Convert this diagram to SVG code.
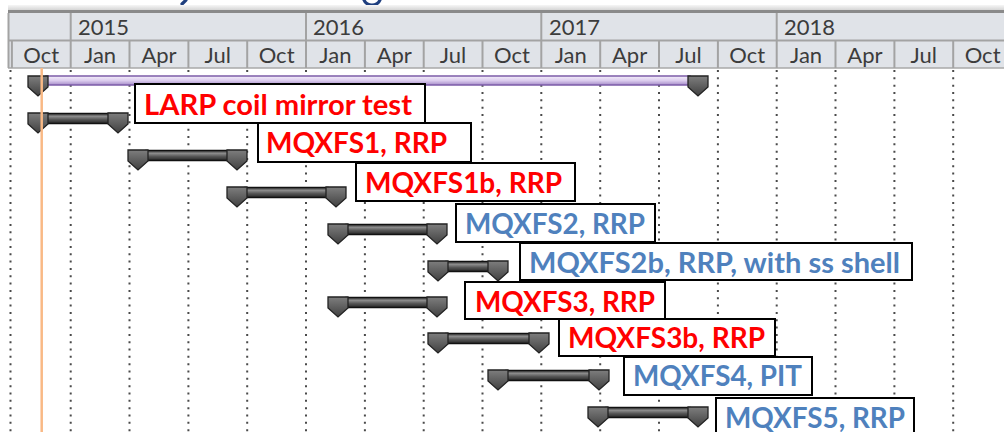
<svg xmlns="http://www.w3.org/2000/svg" xmlns:xlink="http://www.w3.org/1999/xlink" width="1004" height="432" viewBox="0 0 1004 432">
  <style>
    .hdr { font-family: Lato, "Liberation Sans", sans-serif; font-size: 22px; fill: #3c3c3c; }
    .mon { text-anchor: middle; }
    .hline { stroke: #a3a3a3; stroke-width: 2; }
    .grid { stroke: #4a4a4a; stroke-width: 2; stroke-dasharray: 2 5.33; }
    .box { fill: #ffffff; stroke: #000000; stroke-width: 2; }
    .lbl { font-family: Lato, "Liberation Sans", sans-serif; font-weight: 700; font-size: 29px; }
    .red { fill: #ff0000; }
    .blue { fill: #4f81bd; }
    .bar { fill: url(#barFill); stroke: #111111; stroke-width: 1.5; }
    .mk { fill: url(#mkFill); stroke: #222222; stroke-width: 1.3; }
  </style>
  <defs>
    <linearGradient id="barFill" x1="0" y1="0" x2="0" y2="1">
      <stop offset="0" stop-color="#3e3e3e"/>
      <stop offset="0.3" stop-color="#8a8a8a"/>
      <stop offset="0.6" stop-color="#565656"/>
      <stop offset="1" stop-color="#262626"/>
    </linearGradient>
    <linearGradient id="mkFill" x1="0" y1="0" x2="0" y2="1">
      <stop offset="0" stop-color="#7e7e7e"/>
      <stop offset="1" stop-color="#404040"/>
    </linearGradient>
    <linearGradient id="sumFill" x1="0" y1="0" x2="0" y2="1">
      <stop offset="0" stop-color="#f3eef9"/>
      <stop offset="0.5" stop-color="#dccdee"/>
      <stop offset="1" stop-color="#a68dc9"/>
    </linearGradient>
    <linearGradient id="topBand" x1="0" y1="0" x2="0" y2="1">
      <stop offset="0" stop-color="#f6f6f6"/>
      <stop offset="1" stop-color="#cfcfcf"/>
    </linearGradient>
    <!-- milestone-style end cap of a task bar, origin at top centre -->
    <path id="cap" d="M-10,0 H10 V11 L0,20 L-10,11 Z"/>
  </defs>

  <rect width="1004" height="432" fill="#ffffff"/>

  <!-- title descenders along the top edge -->
  <g id="title" fill="none" stroke="#1f3f7f" stroke-width="3.2" stroke-linecap="round">
    <path d="M186,0 L182,4"/>
    <path d="M364,0 Q366,5 372,5 Q378,5 380,0"/>
  </g>

  <!-- timescale header -->
  <g id="timescale">
    <rect x="8" y="5" width="996" height="6" fill="url(#topBand)"/>
    <rect x="8" y="10" width="996" height="3" fill="#8a8a8a"/>
    <rect x="8" y="13" width="996" height="55" fill="#e0e3e8"/>
    <line x1="8" y1="40.5" x2="1004" y2="40.5" class="hline"/>
    <line x1="8" y1="68" x2="1004" y2="68" stroke="#a8a8a8" stroke-width="1.5"/>
    <line x1="8.5" y1="13" x2="8.5" y2="68" class="hline"/>
    <!-- year dividers -->
    <g class="hline">
      <line x1="70.7" y1="13" x2="70.7" y2="40"/>
      <line x1="306" y1="13" x2="306" y2="40"/>
      <line x1="541.3" y1="13" x2="541.3" y2="40"/>
      <line x1="776.7" y1="13" x2="776.7" y2="40"/>
    </g>
    <!-- quarter dividers -->
    <g class="hline">
      <line x1="11.9" y1="40" x2="11.9" y2="68"/>
      <line x1="70.7" y1="40" x2="70.7" y2="68"/>
      <line x1="129.5" y1="40" x2="129.5" y2="68"/>
      <line x1="188.4" y1="40" x2="188.4" y2="68"/>
      <line x1="247.2" y1="40" x2="247.2" y2="68"/>
      <line x1="306" y1="40" x2="306" y2="68"/>
      <line x1="364.9" y1="40" x2="364.9" y2="68"/>
      <line x1="423.7" y1="40" x2="423.7" y2="68"/>
      <line x1="482.5" y1="40" x2="482.5" y2="68"/>
      <line x1="541.3" y1="40" x2="541.3" y2="68"/>
      <line x1="600.2" y1="40" x2="600.2" y2="68"/>
      <line x1="659" y1="40" x2="659" y2="68"/>
      <line x1="717.9" y1="40" x2="717.9" y2="68"/>
      <line x1="776.7" y1="40" x2="776.7" y2="68"/>
      <line x1="835.5" y1="40" x2="835.5" y2="68"/>
      <line x1="894.4" y1="40" x2="894.4" y2="68"/>
      <line x1="953.2" y1="40" x2="953.2" y2="68"/>
    </g>
    <g class="hdr">
      <text x="78" y="35">2015</text>
      <text x="313" y="35">2016</text>
      <text x="549" y="35">2017</text>
      <text x="784" y="35">2018</text>
    </g>
    <g class="hdr mon">
      <text x="41.3" y="63">Oct</text>
      <text x="100.1" y="63">Jan</text>
      <text x="159" y="63">Apr</text>
      <text x="217.8" y="63">Jul</text>
      <text x="276.6" y="63">Oct</text>
      <text x="335.4" y="63">Jan</text>
      <text x="394.3" y="63">Apr</text>
      <text x="453.1" y="63">Jul</text>
      <text x="511.9" y="63">Oct</text>
      <text x="570.8" y="63">Jan</text>
      <text x="629.6" y="63">Apr</text>
      <text x="688.4" y="63">Jul</text>
      <text x="747.2" y="63">Oct</text>
      <text x="806.1" y="63">Jan</text>
      <text x="864.9" y="63">Apr</text>
      <text x="923.7" y="63">Jul</text>
      <text x="982.6" y="63">Oct</text>
    </g>
  </g>

  <!-- dotted quarter gridlines -->
  <g id="gridlines" class="grid">
    <line x1="10.5" y1="70" x2="10.5" y2="432"/>
    <line x1="70.7" y1="70" x2="70.7" y2="432"/>
    <line x1="129.5" y1="70" x2="129.5" y2="432"/>
    <line x1="188.4" y1="70" x2="188.4" y2="432"/>
    <line x1="247.2" y1="70" x2="247.2" y2="432"/>
    <line x1="306" y1="70" x2="306" y2="432"/>
    <line x1="364.9" y1="70" x2="364.9" y2="432"/>
    <line x1="423.7" y1="70" x2="423.7" y2="432"/>
    <line x1="482.5" y1="70" x2="482.5" y2="432"/>
    <line x1="541.3" y1="70" x2="541.3" y2="432"/>
    <line x1="600.2" y1="70" x2="600.2" y2="432"/>
    <line x1="659" y1="70" x2="659" y2="432"/>
    <line x1="717.9" y1="70" x2="717.9" y2="432"/>
    <line x1="776.7" y1="70" x2="776.7" y2="432"/>
    <line x1="835.5" y1="70" x2="835.5" y2="432"/>
    <line x1="894.4" y1="70" x2="894.4" y2="432"/>
    <line x1="953.2" y1="70" x2="953.2" y2="432"/>
  </g>

  <!-- task bars -->
  <g id="connectors">
    <g id="summary">
      <rect x="46" y="76" width="644" height="9" fill="url(#sumFill)" stroke="#7c5ca8" stroke-width="1.5"/>
      <use href="#cap" x="38" y="76" class="mk"/>
      <use href="#cap" x="698" y="76" class="mk"/>
    </g>
    <g id="bar-larp">
      <rect x="46" y="113.5" width="64" height="10" class="bar"/>
      <use href="#cap" x="38" y="113" class="mk"/>
      <use href="#cap" x="118" y="113" class="mk"/>
    </g>
    <g id="bar-s1">
      <rect x="146" y="150.5" width="83" height="10" class="bar"/>
      <use href="#cap" x="138" y="150" class="mk"/>
      <use href="#cap" x="237" y="150" class="mk"/>
    </g>
    <g id="bar-s1b">
      <rect x="245" y="187.5" width="83" height="10" class="bar"/>
      <use href="#cap" x="237" y="187" class="mk"/>
      <use href="#cap" x="336" y="187" class="mk"/>
    </g>
    <g id="bar-s2">
      <rect x="346" y="224.5" width="83" height="10" class="bar"/>
      <use href="#cap" x="338" y="224" class="mk"/>
      <use href="#cap" x="437" y="224" class="mk"/>
    </g>
    <g id="bar-s2b">
      <rect x="446" y="261.5" width="44" height="10" class="bar"/>
      <use href="#cap" x="438" y="261" class="mk"/>
      <use href="#cap" x="498" y="261" class="mk"/>
    </g>
    <g id="bar-s3">
      <rect x="346" y="297.5" width="83" height="10" class="bar"/>
      <use href="#cap" x="338" y="297" class="mk"/>
      <use href="#cap" x="437" y="297" class="mk"/>
    </g>
    <g id="bar-s3b">
      <rect x="446" y="333.5" width="85" height="10" class="bar"/>
      <use href="#cap" x="438" y="333" class="mk"/>
      <use href="#cap" x="539" y="333" class="mk"/>
    </g>
    <g id="bar-s4">
      <rect x="506" y="370.5" width="85" height="10" class="bar"/>
      <use href="#cap" x="498" y="370" class="mk"/>
      <use href="#cap" x="599" y="370" class="mk"/>
    </g>
    <g id="bar-s5">
      <rect x="606" y="407.5" width="84" height="10" class="bar"/>
      <use href="#cap" x="598" y="407" class="mk"/>
      <use href="#cap" x="698" y="407" class="mk"/>
    </g>
  </g>

  <!-- status date line -->
  <line id="status-date" x1="41.7" y1="68" x2="41.7" y2="432" stroke="#f9b985" stroke-width="2.5"/>

  <!-- task labels -->
  <g id="label-larp">
    <rect x="135" y="84" width="290" height="39" class="box"/>
    <text x="144" y="115" class="lbl red" textLength="268" lengthAdjust="spacingAndGlyphs">LARP coil mirror test</text>
  </g>
  <g id="label-s1">
    <rect x="258" y="123" width="213" height="39" class="box"/>
    <text x="266" y="153" class="lbl red" textLength="181" lengthAdjust="spacingAndGlyphs">MQXFS1, RRP</text>
  </g>
  <g id="label-s1b">
    <rect x="356" y="163" width="219" height="38" class="box"/>
    <text x="365" y="193" class="lbl red" textLength="197" lengthAdjust="spacingAndGlyphs">MQXFS1b, RRP</text>
  </g>
  <g id="label-s2">
    <rect x="456" y="204" width="199" height="38" class="box"/>
    <text x="465" y="234" class="lbl blue" textLength="180" lengthAdjust="spacingAndGlyphs">MQXFS2, RRP</text>
  </g>
  <g id="label-s2b">
    <rect x="520" y="243" width="392" height="37" class="box"/>
    <text x="529" y="273" class="lbl blue" textLength="371" lengthAdjust="spacingAndGlyphs">MQXFS2b, RRP, with ss shell</text>
  </g>
  <g id="label-s3">
    <rect x="465" y="282" width="200" height="37" class="box"/>
    <text x="475" y="312" class="lbl red" textLength="180" lengthAdjust="spacingAndGlyphs">MQXFS3, RRP</text>
  </g>
  <g id="label-s3b">
    <rect x="559" y="319" width="216" height="37" class="box"/>
    <text x="568" y="348" class="lbl red" textLength="197" lengthAdjust="spacingAndGlyphs">MQXFS3b, RRP</text>
  </g>
  <g id="label-s4">
    <rect x="624" y="357" width="188" height="38" class="box"/>
    <text x="633" y="386" class="lbl blue" textLength="169" lengthAdjust="spacingAndGlyphs">MQXFS4, PIT</text>
  </g>
  <g id="label-s5">
    <rect x="716" y="398" width="198" height="40" class="box"/>
    <text x="725" y="428" class="lbl blue" textLength="180" lengthAdjust="spacingAndGlyphs">MQXFS5, RRP</text>
  </g>
</svg>
